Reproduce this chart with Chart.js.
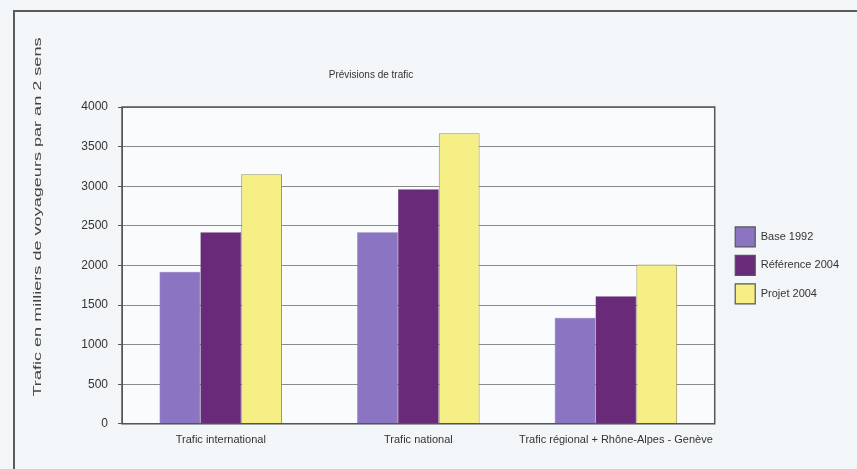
<!DOCTYPE html>
<html>
<head>
<meta charset="utf-8">
<script src="https://cdn.jsdelivr.net/npm/chart.js@4.4.1/dist/chart.umd.min.js"></script>
<style>
  html, body { margin: 0; padding: 0; background: #f3f6f8; }
  #wrap { width: 857px; height: 469px; position: relative; }
</style>
</head>
<body>
<div id="wrap"><canvas id="c" width="857" height="469"></canvas></div>
<script>
const categories = ["Trafic international", "Trafic national", "Trafic régional + Rhône-Alpes - Genève"];
const seriesNames = ["Base 1992", "Référence 2004", "Projet 2004"];
const base1992 = [1920, 2420, 1340];
const reference2004 = [2420, 2960, 1610];
const projet2004 = [3150, 3670, 2010];
const yTicks = [0, 500, 1000, 1500, 2000, 2500, 3000, 3500, 4000];
const chartTitle = "Prévisions de trafic";
const yTitle = "Trafic en milliers de voyageurs par an 2 sens";

const FONT = "'Liberation Sans', Arial, sans-serif";

const framePlugin = {
  id: 'frame',
  afterLayout(chart) {
    // nudge the legend a little away from the plot, as in the reference
    if (chart.legend) { chart.legend.left += 12; chart.legend.right += 12; }
  },
  beforeDraw(chart) {
    const ctx = chart.ctx;
    ctx.save();
    ctx.fillStyle = '#f3f6f8';
    ctx.fillRect(0, 0, chart.width, chart.height);
    ctx.strokeStyle = '#5a5a5a';
    ctx.lineWidth = 2;
    ctx.beginPath();
    ctx.moveTo(14, chart.height);
    ctx.lineTo(14, 11);
    ctx.lineTo(chart.width, 11);
    ctx.stroke();
    const a = chart.chartArea;
    ctx.fillStyle = '#f9fbfc';
    ctx.fillRect(a.left, a.top, a.right - a.left, a.bottom - a.top);
    ctx.restore();
  },
  afterDatasetsDraw(chart) {
    const ctx = chart.ctx;
    const a = chart.chartArea;
    ctx.save();
    ctx.strokeStyle = '#555';
    ctx.lineWidth = 1.5;
    ctx.strokeRect(a.left, a.top, a.right - a.left, a.bottom - a.top);
    ctx.fillStyle = '#333';
    ctx.font = "10px " + FONT;
    ctx.textAlign = 'center';
    ctx.textBaseline = 'middle';
    ctx.fillText(chartTitle, 371, 75);
    // y axis title, stretched lengthwise like the scanned original
    ctx.fillStyle = '#444';
    ctx.font = "11px " + FONT;
    const w = ctx.measureText(yTitle).width;
    ctx.translate(38, 217);
    ctx.rotate(-Math.PI / 2);
    ctx.scale(359 / w, 1);
    ctx.fillText(yTitle, 0, 0);
    ctx.restore();
  }
};

new Chart(document.getElementById('c'), {
  type: 'bar',
  data: {
    labels: categories,
    datasets: [
      { label: seriesNames[0], data: base1992, backgroundColor: '#8b74c2', borderColor: '#6d5aa0', borderWidth: 0.5 },
      { label: seriesNames[1], data: reference2004, backgroundColor: '#6a2a7a', borderColor: '#4e1d5c', borderWidth: 0.5 },
      { label: seriesNames[2], data: projet2004, backgroundColor: '#f6ef86', borderColor: '#9a9560', borderWidth: 1 }
    ]
  },
  options: {
    responsive: false,
    animation: false,
    devicePixelRatio: 1,
    layout: { padding: { left: 31, right: 20, top: 107, bottom: 12 } },
    datasets: { bar: { categoryPercentage: 0.62, barPercentage: 1.0 } },
    plugins: {
      legend: {
        position: 'right',
        align: 'center',
        fullSize: false,
        labels: {
          boxWidth: 20, boxHeight: 20, padding: 8.5,
          color: '#333', font: { family: FONT, size: 11 },
          generateLabels(chart) {
            const items = Chart.defaults.plugins.legend.labels.generateLabels(chart);
            items.forEach(it => { it.strokeStyle = '#555'; it.lineWidth = 1.2; });
            return items;
          }
        }
      },
      title: { display: false },
      tooltip: { enabled: false }
    },
    scales: {
      x: {
        grid: { display: false, drawTicks: false },
        border: { display: true, color: '#555' },
        ticks: { color: '#333', font: { family: FONT, size: 11 }, padding: 10, maxRotation: 0, autoSkip: false }
      },
      y: {
        min: 0, max: 4000,
        afterBuildTicks(scale) { scale.ticks = yTicks.map(v => ({ value: v })); },
        afterFit(scale) { scale.width = 91; },
        grid: { color: '#8a8a8a', lineWidth: 1, tickLength: 4, drawTicks: true, tickColor: '#555' },
        border: { display: true, color: '#555' },
        ticks: { color: '#333', font: { family: FONT, size: 12 }, padding: 10, callback: v => String(v) },
        title: { display: false }
      }
    }
  },
  plugins: [framePlugin]
});
</script>
</body>
</html>
